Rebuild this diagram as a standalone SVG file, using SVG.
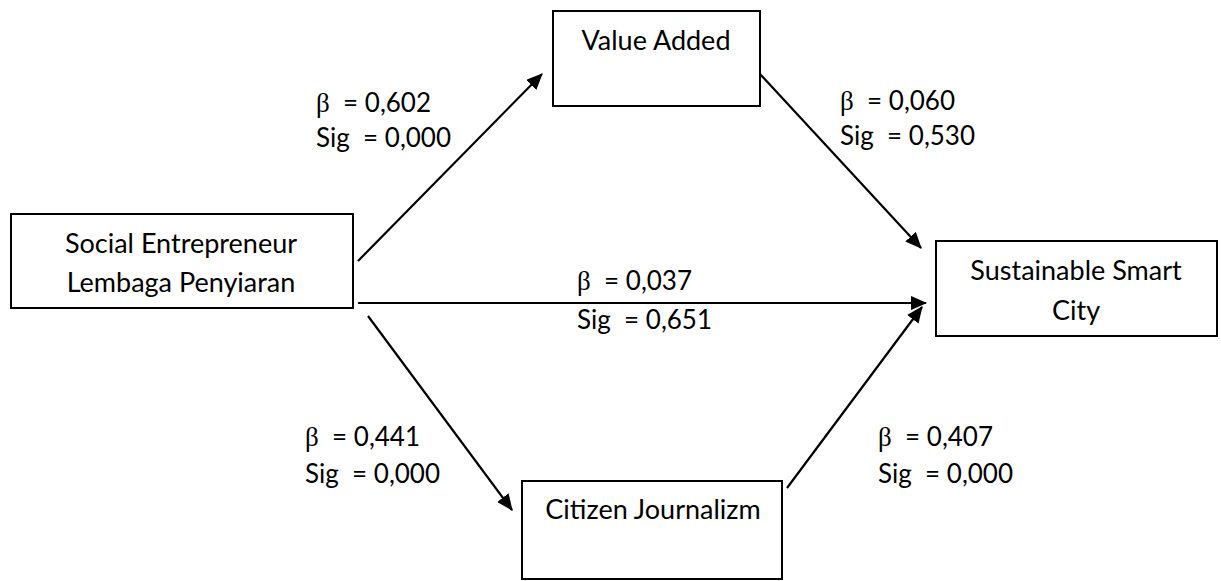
<svg xmlns="http://www.w3.org/2000/svg" width="1221" height="581" viewBox="0 0 1221 581">
<style>
.box{fill:#fff;stroke:#000;stroke-width:2}
.t{font-family:"Lato","Liberation Sans",sans-serif;font-size:27px;fill:#000;white-space:pre}
.l{font-size:26px}
.b{font-family:"Liberation Serif",serif;font-size:27px}
.c{stroke:#000;stroke-width:2.2;fill:none;marker-end:url(#ah)}
</style>
<defs>
<marker id="ah" markerWidth="7.5" markerHeight="6.5" refX="7" refY="3.25" orient="auto" markerUnits="strokeWidth" viewBox="0 0 7.5 6.5">
<path d="M0,0 L7.5,3.25 L0,6.5 Z" fill="#000"/>
</marker>
</defs>
<rect width="1221" height="581" fill="#fff"/>
<g id="connectors">
<line class="c" x1="358" y1="261" x2="542" y2="74"/>
<line class="c" x1="358" y1="303" x2="926" y2="303"/>
<line class="c" x1="759" y1="73" x2="921" y2="248"/>
<line class="c" x1="368" y1="316" x2="512" y2="510"/>
<line class="c" x1="787" y1="488" x2="922" y2="307"/>
</g>
<g id="social">
<rect class="box" x="11" y="214" width="342" height="94"/>
<text class="t" x="181" y="253" text-anchor="middle">Social Entrepreneur</text>
<text class="t" x="181" y="292" text-anchor="middle">Lembaga Penyiaran</text>
</g>
<g id="value">
<rect class="box" x="553" y="11" width="207" height="95"/>
<text class="t" x="656" y="50" text-anchor="middle">Value Added</text>
</g>
<g id="sustainable">
<rect class="box" x="936" y="241" width="281" height="95"/>
<text class="t" x="1076" y="280" text-anchor="middle">Sustainable Smart</text>
<text class="t" x="1076" y="320" text-anchor="middle">City</text>
</g>
<g id="citizen">
<rect class="box" x="522" y="481" width="260" height="98"/>
<text class="t" x="653" y="519" text-anchor="middle">Citizen Journalizm</text>
</g>
<g id="labels">
<text class="t l" x="316" y="112"><tspan class="b">β</tspan>  = 0,602</text>
<text class="t l" x="316" y="147">Sig  = 0,000</text>
<text class="t l" x="840" y="110"><tspan class="b">β</tspan>  = 0,060</text>
<text class="t l" x="840" y="145">Sig  = 0,530</text>
<text class="t l" x="577" y="290"><tspan class="b">β</tspan>  = 0,037</text>
<text class="t l" x="577" y="329">Sig  = 0,651</text>
<text class="t l" x="305" y="446"><tspan class="b">β</tspan>  = 0,441</text>
<text class="t l" x="305" y="483">Sig  = 0,000</text>
<text class="t l" x="878" y="446"><tspan class="b">β</tspan>  = 0,407</text>
<text class="t l" x="878" y="483">Sig  = 0,000</text>
</g>
</svg>
